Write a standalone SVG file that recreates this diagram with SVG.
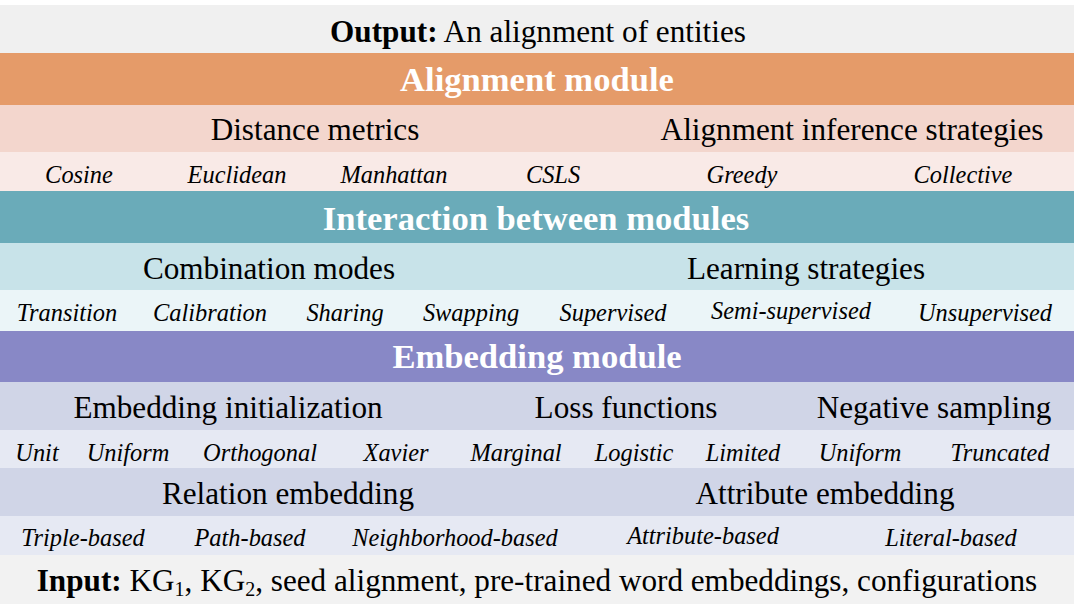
<svg xmlns="http://www.w3.org/2000/svg" width="1080" height="604" viewBox="0 0 1080 604">
<style>
text{font-family:"Liberation Serif","Times New Roman",serif;fill:#000;text-anchor:middle}
.mod{font-size:34.6px;font-weight:bold;fill:#fff}
.sub{font-size:31.2px}
.it{font-size:24.4px;font-style:italic}
.io{font-size:31.2px}
.b{font-weight:bold}
</style>
<rect x="0" y="0" width="1080" height="604" fill="#ffffff"/>
<g id="output">
<rect x="0" y="5" width="1074" height="48" fill="#f0f0f0"/>
<text class="io" x="538" y="42"><tspan class="b">Output:</tspan> An alignment of entities</text>
</g>
<g id="alignment-module">
<rect x="0" y="53" width="1074" height="52" fill="#e59b69"/>
<text class="mod" x="537" y="91">Alignment module</text>
</g>
<g id="alignment-sub">
<rect x="0" y="105" width="1074" height="47" fill="#f3d6cd"/>
<text class="sub" x="315" y="140">Distance metrics</text>
<text class="sub" x="852" y="140">Alignment inference strategies</text>
</g>
<g id="alignment-items">
<rect x="0" y="152" width="1074" height="39" fill="#f9eae7"/>
<text class="it" x="79" y="183">Cosine</text>
<text class="it" x="237" y="183">Euclidean</text>
<text class="it" x="394" y="183">Manhattan</text>
<text class="it" x="553" y="183">CSLS</text>
<text class="it" x="742" y="183">Greedy</text>
<text class="it" x="963" y="183">Collective</text>
</g>
<g id="interaction-module">
<rect x="0" y="191" width="1074" height="52" fill="#6aabb9"/>
<text class="mod" x="536" y="230">Interaction between modules</text>
</g>
<g id="interaction-sub">
<rect x="0" y="243" width="1074" height="47" fill="#c8e3e9"/>
<text class="sub" x="269" y="279">Combination modes</text>
<text class="sub" x="806" y="279">Learning strategies</text>
</g>
<g id="interaction-items">
<rect x="0" y="290" width="1074" height="41" fill="#ebf5f8"/>
<text class="it" x="67" y="321">Transition</text>
<text class="it" x="210" y="321">Calibration</text>
<text class="it" x="345" y="321">Sharing</text>
<text class="it" x="471" y="321">Swapping</text>
<text class="it" x="613" y="321">Supervised</text>
<text class="it" x="791" y="319">Semi-supervised</text>
<text class="it" x="985" y="321">Unsupervised</text>
</g>
<g id="embedding-module">
<rect x="0" y="331" width="1074" height="51" fill="#8888c6"/>
<text class="mod" x="537" y="368">Embedding module</text>
</g>
<g id="embedding-sub1">
<rect x="0" y="382" width="1074" height="48" fill="#d0d5e7"/>
<text class="sub" x="228" y="418">Embedding initialization</text>
<text class="sub" x="626" y="418">Loss functions</text>
<text class="sub" x="934" y="418">Negative sampling</text>
</g>
<g id="embedding-items1">
<rect x="0" y="430" width="1074" height="38" fill="#e6e9f3"/>
<text class="it" x="37" y="461">Unit</text>
<text class="it" x="128" y="461">Uniform</text>
<text class="it" x="260" y="461">Orthogonal</text>
<text class="it" x="396" y="461">Xavier</text>
<text class="it" x="516" y="461">Marginal</text>
<text class="it" x="634" y="461">Logistic</text>
<text class="it" x="743" y="461">Limited</text>
<text class="it" x="860" y="461">Uniform</text>
<text class="it" x="1000" y="461">Truncated</text>
</g>
<g id="embedding-sub2">
<rect x="0" y="468" width="1074" height="48" fill="#d0d5e7"/>
<text class="sub" x="288" y="504">Relation embedding</text>
<text class="sub" x="825" y="504">Attribute embedding</text>
</g>
<g id="embedding-items2">
<rect x="0" y="516" width="1074" height="39" fill="#e6e9f3"/>
<text class="it" x="83" y="546">Triple-based</text>
<text class="it" x="250" y="546">Path-based</text>
<text class="it" x="455" y="546">Neighborhood-based</text>
<text class="it" x="703" y="544">Attribute-based</text>
<text class="it" x="951" y="546">Literal-based</text>
</g>
<g id="input">
<rect x="0" y="555" width="1074" height="49" fill="#f2f2f2"/>
<text class="io" x="537" y="591"><tspan class="b">Input:</tspan> KG<tspan font-size="20" dy="5">1</tspan><tspan dy="-5">, KG</tspan><tspan font-size="20" dy="5">2</tspan><tspan dy="-5">, seed alignment, pre-trained word embeddings, configurations</tspan></text>
</g>
<g id="connectors"></g>
</svg>
